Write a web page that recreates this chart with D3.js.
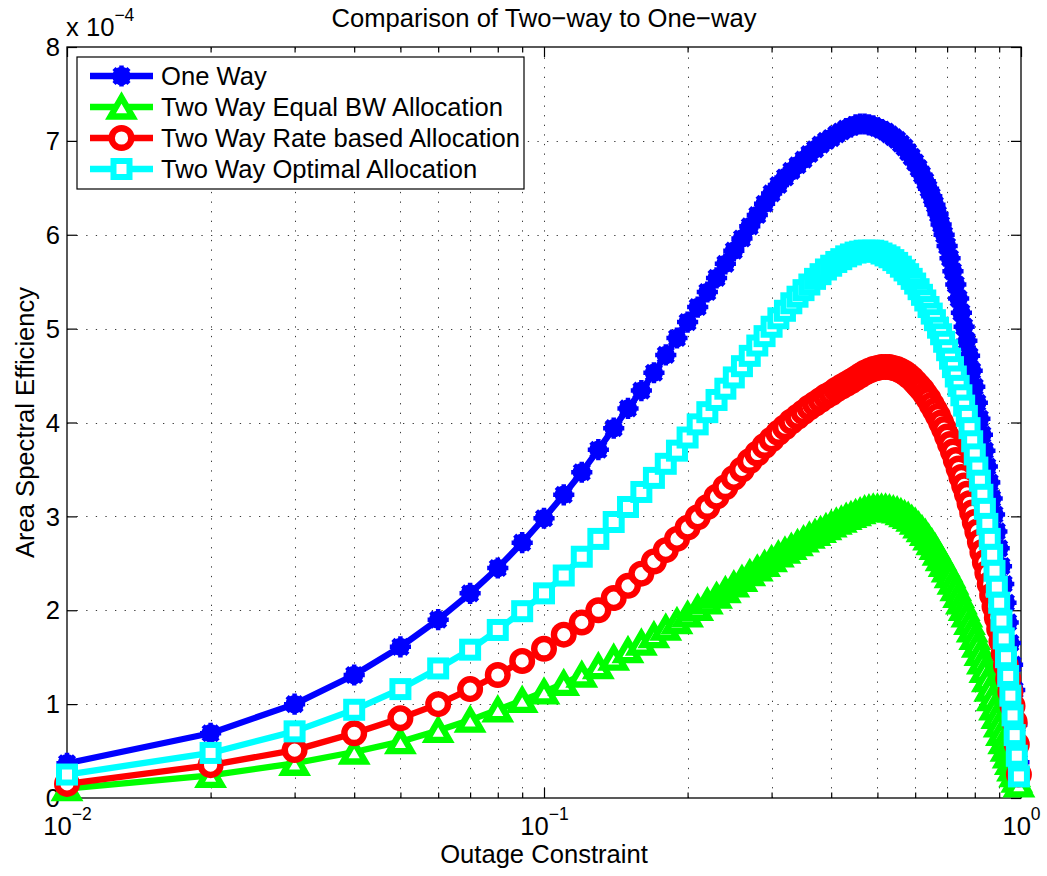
<!DOCTYPE html>
<html>
<head>
<meta charset="utf-8">
<script src="https://cdn.jsdelivr.net/npm/d3@7"></script>
<style>
  body { margin: 0; background: #fff; }
  svg text { font-family: "Liberation Sans", Arial, Helvetica, sans-serif; fill: #000; }
</style>
</head>
<body>
<svg id="chart" width="1047" height="876"></svg>
<script>
// Outage constraint values (x axis, log scale)
const outage = [
  0.01,0.02,0.03,0.04,0.05,0.06,0.07,0.08,0.09,0.10,
  0.11,0.12,0.13,0.14,0.15,0.16,0.17,0.18,0.19,0.20,
  0.21,0.22,0.23,0.24,0.25,0.26,0.27,0.28,0.29,0.30,
  0.31,0.32,0.33,0.34,0.35,0.36,0.37,0.38,0.39,0.40,
  0.41,0.42,0.43,0.44,0.45,0.46,0.47,0.48,0.49,0.50,
  0.51,0.52,0.53,0.54,0.55,0.56,0.57,0.58,0.59,0.60,
  0.61,0.62,0.63,0.64,0.65,0.66,0.67,0.68,0.69,0.70,
  0.71,0.72,0.73,0.74,0.75,0.76,0.77,0.78,0.79,0.80,
  0.81,0.82,0.83,0.84,0.85,0.86,0.87,0.88,0.89,0.90,
  0.91,0.92,0.93,0.94,0.95,0.96,0.97,0.98,0.99
];

// Area spectral efficiency, in units of 1e-4
const oneWay = [
  0.37,0.69,1.00,1.31,1.61,1.90,2.18,2.45,2.72,2.98,
  3.23,3.47,3.71,3.94,4.15,4.34,4.53,4.72,4.90,5.07,
  5.23,5.39,5.54,5.69,5.83,5.96,6.09,6.21,6.33,6.44,
  6.53,6.61,6.68,6.74,6.80,6.86,6.91,6.96,7.00,7.03,
  7.07,7.10,7.13,7.15,7.17,7.18,7.18,7.17,7.16,7.14,
  7.12,7.10,7.07,7.04,7.01,6.97,6.93,6.88,6.83,6.77,
  6.71,6.64,6.57,6.49,6.41,6.32,6.22,6.11,6.00,5.88,
  5.75,5.61,5.47,5.32,5.17,5.02,4.87,4.71,4.55,4.38,
  4.21,4.04,3.87,3.70,3.53,3.36,3.19,3.02,2.84,2.66,
  2.47,2.28,2.08,1.87,1.65,1.42,1.15,0.78,0.38
];
const twoWayEqual = [
  0.10,0.24,0.37,0.49,0.60,0.72,0.83,0.94,1.04,1.13,
  1.22,1.31,1.40,1.49,1.57,1.65,1.73,1.81,1.88,1.95,
  2.02,2.09,2.15,2.21,2.27,2.33,2.39,2.44,2.49,2.54,
  2.59,2.63,2.67,2.71,2.75,2.79,2.82,2.85,2.88,2.91,
  2.94,2.96,2.99,3.01,3.03,3.05,3.07,3.08,3.09,3.09,
  3.09,3.09,3.08,3.07,3.06,3.04,3.02,3.00,2.97,2.94,
  2.90,2.86,2.82,2.77,2.72,2.67,2.61,2.55,2.49,2.43,
  2.37,2.30,2.23,2.16,2.09,2.02,1.95,1.87,1.79,1.71,
  1.63,1.54,1.45,1.36,1.26,1.16,1.06,0.96,0.87,0.78,
  0.69,0.60,0.52,0.45,0.38,0.31,0.25,0.19,0.14
];
const twoWayRate = [
  0.15,0.35,0.51,0.69,0.85,1.00,1.16,1.31,1.46,1.59,
  1.74,1.87,2.00,2.13,2.26,2.39,2.52,2.64,2.76,2.88,
  2.99,3.10,3.21,3.31,3.41,3.50,3.59,3.67,3.75,3.82,
  3.89,3.95,4.01,4.06,4.11,4.16,4.20,4.24,4.28,4.31,
  4.35,4.38,4.41,4.44,4.47,4.50,4.53,4.55,4.57,4.58,
  4.59,4.59,4.59,4.58,4.57,4.55,4.53,4.50,4.47,4.43,
  4.39,4.35,4.30,4.25,4.19,4.13,4.07,4.00,3.93,3.85,
  3.77,3.69,3.60,3.51,3.42,3.33,3.24,3.14,3.04,2.94,
  2.84,2.73,2.62,2.51,2.40,2.28,2.16,2.04,1.92,1.80,
  1.67,1.54,1.41,1.27,1.13,0.98,0.81,0.57,0.25
];
const twoWayOptimal = [
  0.25,0.48,0.71,0.94,1.16,1.38,1.58,1.79,1.99,2.18,
  2.37,2.57,2.76,2.94,3.10,3.26,3.41,3.56,3.70,3.84,
  3.98,4.11,4.24,4.36,4.48,4.60,4.71,4.82,4.92,5.02,
  5.11,5.19,5.27,5.34,5.41,5.47,5.53,5.58,5.63,5.67,
  5.71,5.74,5.77,5.79,5.81,5.82,5.83,5.83,5.83,5.82,
  5.80,5.78,5.76,5.73,5.70,5.66,5.62,5.58,5.53,5.48,
  5.42,5.36,5.30,5.23,5.16,5.09,5.01,4.94,4.86,4.77,
  4.68,4.59,4.49,4.39,4.29,4.18,4.07,3.94,3.80,3.66,
  3.52,3.38,3.23,3.08,2.92,2.76,2.59,2.42,2.25,2.08,
  1.89,1.70,1.50,1.30,1.09,0.88,0.67,0.45,0.23
];

const seriesNames = [
  "One Way",
  "Two Way Equal BW Allocation",
  "Two Way Rate based Allocation",
  "Two Way Optimal Allocation"
];
const seriesColors = ["#0000ff", "#00ff00", "#ff0000", "#00ffff"];
const seriesMarkers = ["asterisk", "triangle", "circle", "square"];

// Axis ticks and labels
const xMajorTicks = [0.01, 0.1, 1];
const xTickExponents = ["\u22122", "\u22121", "0"];
const xMinorTicks = [0.02,0.03,0.04,0.05,0.06,0.07,0.08,0.09,0.2,0.3,0.4,0.5,0.6,0.7,0.8,0.9];
const yTicks = [0, 1, 2, 3, 4, 5, 6, 7, 8];

const titleText = "Comparison of Two\u2212way to One\u2212way";
const xLabelText = "Outage Constraint";
const yLabelText = "Area Spectral Efficiency";

// ---------------------------------------------------------------------------
const FONT = 25.6;
const SUP = 17.5;
const box = { left: 67, right: 1021, top: 47, bottom: 798 };
const svg = d3.select("#chart");
svg.append("rect").attr("width", 1047).attr("height", 876).attr("fill", "#fff");

const x = d3.scaleLog().domain([0.01, 1]).range([box.left, box.right]);
const y = d3.scaleLinear().domain([0, 8]).range([box.bottom, box.top]);

// dotted grid
const grid = svg.append("g")
  .attr("stroke", "#3a3a3a").attr("stroke-width", 1)
  .attr("stroke-dasharray", "1.3,8.3").attr("fill", "none");
grid.selectAll("line.gx").data(xMinorTicks.concat([0.1])).join("line")
  .attr("x1", d => Math.round(x(d)) + 0.5).attr("x2", d => Math.round(x(d)) + 0.5)
  .attr("y1", box.bottom).attr("y2", box.top);
grid.selectAll("line.gy").data(yTicks.slice(1, -1)).join("line")
  .attr("y1", d => Math.round(y(d)) + 0.5).attr("y2", d => Math.round(y(d)) + 0.5)
  .attr("x1", box.left).attr("x2", box.right);

// axes with inward ticks
function styleAxis(g) {
  g.attr("font-size", FONT).attr("font-family", null);
  g.selectAll("line").attr("stroke", "#000").attr("stroke-width", 1.2);
  g.select(".domain").remove();
}
svg.append("g").attr("transform", `translate(0,${box.bottom})`)
  .call(d3.axisBottom(x).tickValues(xMajorTicks).tickSizeInner(-10).tickSizeOuter(0).tickFormat(() => ""))
  .call(styleAxis)
  .call(g => g.selectAll(".tick").each(function(d, i) {
    const t = d3.select(this).append("text")
      .attr("y", 37).attr("text-anchor", "middle").attr("font-size", FONT);
    t.append("tspan").text("10");
    t.append("tspan").attr("font-size", SUP).attr("dy", -15).text(xTickExponents[i]);
  }));
svg.append("g").attr("transform", `translate(0,${box.bottom})`)
  .call(d3.axisBottom(x).tickValues(xMinorTicks).tickSizeInner(-5.5).tickSizeOuter(0).tickFormat(() => ""))
  .call(styleAxis);
svg.append("g").attr("transform", `translate(0,${box.top})`)
  .call(d3.axisTop(x).tickValues(xMajorTicks).tickSizeInner(-10).tickSizeOuter(0).tickFormat(() => ""))
  .call(styleAxis);
svg.append("g").attr("transform", `translate(0,${box.top})`)
  .call(d3.axisTop(x).tickValues(xMinorTicks).tickSizeInner(-5.5).tickSizeOuter(0).tickFormat(() => ""))
  .call(styleAxis);
svg.append("g").attr("transform", `translate(${box.left},0)`)
  .call(d3.axisLeft(y).tickValues(yTicks).tickSizeInner(-10).tickSizeOuter(0).tickPadding(7).tickFormat(d3.format("d")))
  .call(styleAxis)
  .call(g => g.selectAll("text").attr("dy", "0.34em"));
svg.append("g").attr("transform", `translate(${box.right},0)`)
  .call(d3.axisRight(y).tickValues(yTicks).tickSizeInner(-10).tickSizeOuter(0).tickFormat(() => ""))
  .call(styleAxis);
svg.append("rect")
  .attr("x", box.left).attr("y", box.top)
  .attr("width", box.right - box.left).attr("height", box.bottom - box.top)
  .attr("fill", "none").attr("stroke", "#000").attr("stroke-width", 1.3);

// marker shapes
function drawMarker(g, type, color) {
  if (type === "asterisk") {
    const r = 10.6, d = r * Math.SQRT1_2;
    g.append("circle").attr("r", 9.2).attr("fill", color);
    g.append("path")
      .attr("d", `M${-r},0L${r},0M0,${-r}L0,${r}M${-d},${-d}L${d},${d}M${-d},${d}L${d},${-d}`)
      .attr("stroke", color).attr("stroke-width", 4.5).attr("fill", "none");
  } else if (type === "triangle") {
    g.append("path").attr("d", "M0,-9.5L11,9.5L-11,9.5Z")
      .attr("fill", "#fff").attr("stroke", color).attr("stroke-width", 6.3)
      .attr("stroke-linejoin", "miter");
  } else if (type === "circle") {
    g.append("circle").attr("r", 9.8)
      .attr("fill", "#fff").attr("stroke", color).attr("stroke-width", 6.4);
  } else {
    g.append("rect").attr("x", -8).attr("y", -8).attr("width", 16).attr("height", 16)
      .attr("fill", "#fff").attr("stroke", color).attr("stroke-width", 6)
      .attr("stroke-linejoin", "miter");
  }
}

const allValues = [oneWay, twoWayEqual, twoWayRate, twoWayOptimal];
const series = seriesNames.map((name, i) => ({
  name, color: seriesColors[i], marker: seriesMarkers[i],
  points: outage.map((o, j) => ({ x: o, y: allValues[i][j] }))
}));

const line = d3.line().x(d => x(d.x)).y(d => y(d.y));
const plot = svg.append("g");
series.forEach(s => {
  const g = plot.append("g");
  g.append("path").datum(s.points).attr("d", line)
    .attr("fill", "none").attr("stroke", s.color).attr("stroke-width", 6.3)
    .attr("stroke-linejoin", "round");
  g.selectAll("g.mk").data(s.points).join("g").attr("class", "mk")
    .attr("transform", d => `translate(${x(d.x)},${y(d.y)})`)
    .each(function() { drawMarker(d3.select(this), s.marker, s.color); });
});

// title, axis labels, exponent
svg.append("text").attr("x", (box.left + box.right) / 2).attr("y", 27)
  .attr("text-anchor", "middle").attr("font-size", FONT).text(titleText);
svg.append("text").attr("x", (box.left + box.right) / 2).attr("y", 863)
  .attr("text-anchor", "middle").attr("font-size", FONT).text(xLabelText);
svg.append("text")
  .attr("transform", `translate(34,${(box.top + box.bottom) / 2}) rotate(-90)`)
  .attr("text-anchor", "middle").attr("font-size", FONT).text(yLabelText);
const ex = svg.append("text").attr("x", 66).attr("y", 36).attr("font-size", FONT);
ex.append("tspan").text("x 10");
ex.append("tspan").attr("font-size", SUP).attr("dy", -15).text("\u22124");

// legend
const leg = svg.append("g");
leg.append("rect").attr("x", 77).attr("y", 57).attr("width", 447).attr("height", 132)
  .attr("fill", "#fff").attr("stroke", "#000").attr("stroke-width", 1.2);
const rowY = [76, 107, 138, 169];
series.forEach((s, i) => {
  const r = leg.append("g").attr("transform", `translate(0,${rowY[i]})`);
  r.append("line").attr("x1", 90).attr("x2", 153)
    .attr("stroke", s.color).attr("stroke-width", 6.3);
  drawMarker(r.append("g").attr("transform", "translate(121.5,0)"), s.marker, s.color);
  r.append("text").attr("x", 161).attr("y", 9).attr("font-size", FONT).text(s.name);
});
</script>
</body>
</html>
